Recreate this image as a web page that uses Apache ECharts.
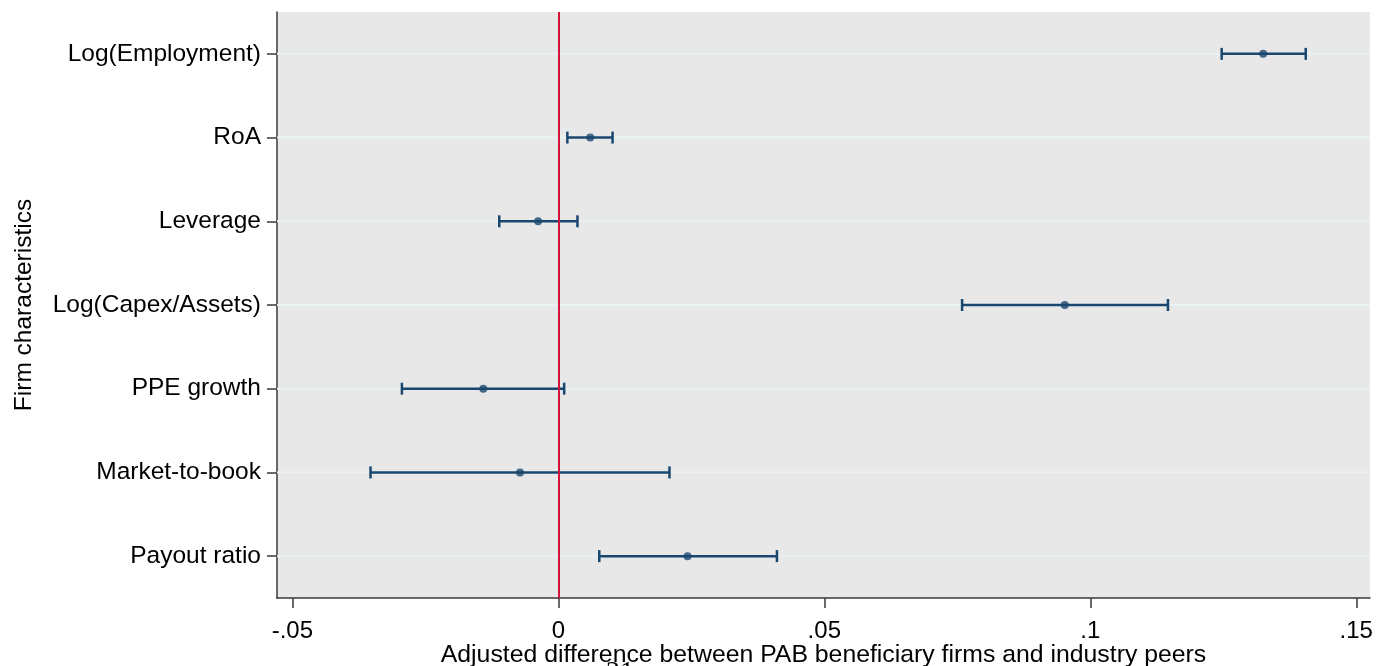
<!DOCTYPE html>
<html>
<head>
<meta charset="utf-8">
<script src="https://cdn.jsdelivr.net/npm/echarts@6/dist/echarts.min.js"></script>
<style>
html,body{margin:0;padding:0;background:#fff;}
#chart{width:1390px;height:666px;}
</style>
</head>
<body>
<div id="chart"></div>
<script>
const categories = ['Log(Employment)', 'RoA', 'Leverage', 'Log(Capex/Assets)', 'PPE growth', 'Market-to-book', 'Payout ratio'];
const estimates = [0.1325, 0.0060, -0.0038, 0.0952, -0.0141, -0.0072, 0.0243];
const lowerCI = [0.1247, 0.0017, -0.0111, 0.0759, -0.0294, -0.0353, 0.0077];
const upperCI = [0.1405, 0.0102, 0.0036, 0.1146, 0.0011, 0.0209, 0.0411];
const xTickValues = [-0.05, 0, 0.05, 0.1, 0.15];
const xTickLabels = ['-.05', '0', '.05', '.1', '.15'];
const referenceLine = 0;

const NAVY = '#1a476f';
const FONT = "'Liberation Sans', Arial, sans-serif";

const chart = echarts.init(document.getElementById('chart'));

const gridData = categories.map((c, i) => [i]);
const ciData = categories.map((c, i) => [lowerCI[i], upperCI[i], i]);
const ptData = categories.map((c, i) => [estimates[i], i]);

const option = {
  animation: false,
  backgroundColor: '#ffffff',
  grid: {
    left: 277, top: 12, width: 1093, height: 586,
    outerBoundsMode: 'none',
    containLabel: false,
    show: true, backgroundColor: '#e8e8e8', borderWidth: 0
  },
  xAxis: {
    type: 'value',
    min: -0.05288, max: 0.15258,
    axisLine: { show: true, onZero: false, lineStyle: { color: '#3a3a3a', width: 1.5 } },
    axisTick: { show: true, length: 10, customValues: xTickValues, lineStyle: { color: '#3a3a3a', width: 1.5 } },
    axisLabel: {
      customValues: xTickValues,
      margin: 21,
      fontSize: 24, fontFamily: FONT, color: '#000',
      formatter: function (v) {
        const k = xTickValues.findIndex(t => Math.abs(t - v) < 1e-9);
        return k >= 0 ? xTickLabels[k] : '';
      }
    },
    splitLine: { show: false },
    name: 'Adjusted difference between PAB beneficiary firms and industry peers',
    nameLocation: 'middle',
    nameGap: 45,
    nameMoveOverlap: false,
    nameTextStyle: { fontSize: 24.8, fontFamily: FONT, color: '#000' }
  },
  yAxis: {
    type: 'category',
    data: categories,
    inverse: true,
    axisLine: { show: true, onZero: false, lineStyle: { color: '#3a3a3a', width: 1.5 } },
    axisTick: { show: true, alignWithLabel: true, length: 10, lineStyle: { color: '#3a3a3a', width: 1.5 } },
    axisLabel: { margin: 16, fontSize: 24.5, fontFamily: FONT, color: '#000' },
    splitLine: { show: false },
    name: 'Firm characteristics',
    nameLocation: 'middle',
    nameGap: 240,
    nameMoveOverlap: false,
    nameTextStyle: { fontSize: 24.5, fontFamily: FONT, color: '#000' }
  },
  series: [
    {
      type: 'custom',
      silent: true,
      z: 1,
      data: gridData,
      encode: { y: 0 },
      renderItem: function (params, api) {
        const y = api.coord([0, api.value(0)])[1];
        const cs = params.coordSys;
        return {
          type: 'line',
          shape: { x1: cs.x, y1: y, x2: cs.x + cs.width, y2: y },
          style: { stroke: '#eaf2f3', lineWidth: 2 }
        };
      }
    },
    {
      type: 'scatter',
      data: [],
      z: 2,
      markLine: {
        silent: true,
        symbol: ['none', 'none'],
        label: { show: false },
        lineStyle: { color: '#d0143c', width: 2, type: 'solid' },
        data: [{ xAxis: referenceLine }]
      }
    },
    {
      type: 'custom',
      z: 3,
      data: ciData,
      encode: { x: [0, 1], y: 2 },
      renderItem: function (params, api) {
        const p1 = api.coord([api.value(0), api.value(2)]);
        const p2 = api.coord([api.value(1), api.value(2)]);
        const h = 6;
        const style = { stroke: NAVY, lineWidth: 2.5 };
        return {
          type: 'group',
          children: [
            { type: 'line', shape: { x1: p1[0], y1: p1[1], x2: p2[0], y2: p2[1] }, style: style },
            { type: 'line', shape: { x1: p1[0], y1: p1[1] - h, x2: p1[0], y2: p1[1] + h }, style: style },
            { type: 'line', shape: { x1: p2[0], y1: p2[1] - h, x2: p2[0], y2: p2[1] + h }, style: style }
          ]
        };
      }
    },
    {
      type: 'scatter',
      z: 4,
      data: ptData,
      symbol: 'circle',
      symbolSize: 8,
      itemStyle: { color: NAVY }
    }
  ],
  graphic: [
    {
      type: 'text',
      left: 606, top: 659,
      silent: true,
      z: -1,
      style: { text: '21', font: "28px 'Liberation Serif', 'DejaVu Serif', serif", fill: '#000' }
    }
  ]
};
chart.setOption(option);
</script>
</body>
</html>
